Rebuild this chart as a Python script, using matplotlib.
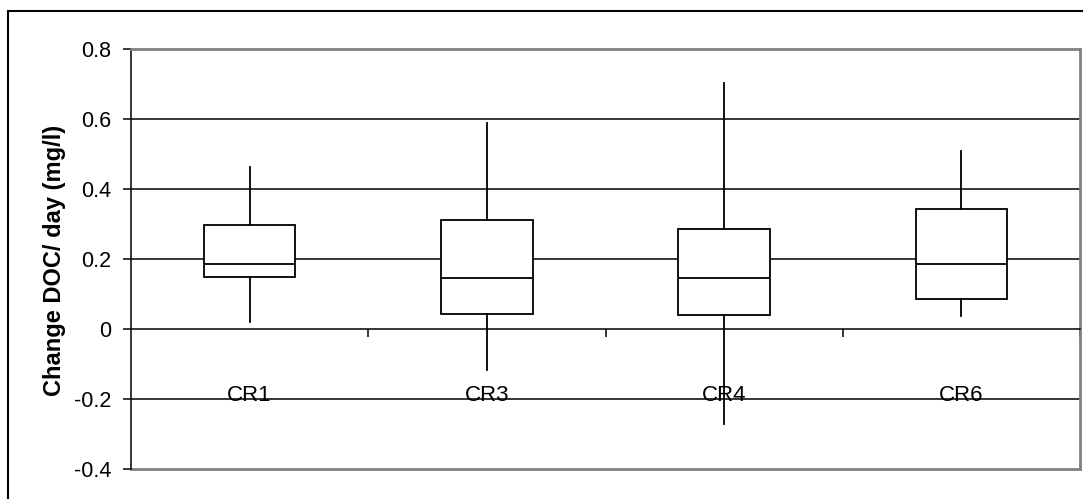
import matplotlib.pyplot as plt
from matplotlib.patches import Rectangle

plt.rcParams['font.family'] = ['Liberation Sans', 'DejaVu Sans']

# box plot values
sites = ['CR1', 'CR3', 'CR4', 'CR6']
whisker_low = [0.021, -0.117, -0.270, 0.036]
q1 = [0.149, 0.042, 0.040, 0.087]
median = [0.186, 0.147, 0.146, 0.187]
q3 = [0.296, 0.311, 0.286, 0.342]
whisker_high = [0.464, 0.590, 0.704, 0.510]

y_ticks = [-0.4, -0.2, 0, 0.2, 0.4, 0.6, 0.8]

fig = plt.figure(figsize=(10.83, 4.99), dpi=100)
ax = fig.add_axes([131 / 1083, 1 - 469 / 499, 949 / 1083, 420 / 499])

# outer chart frame (cut at the right and bottom in the original)
fig.patches.append(Rectangle((8 / 1083, -0.1), 1.2, 1 - 11 / 499 + 0.1,
                             transform=fig.transFigure, fill=False,
                             edgecolor='black', linewidth=1.5))

stats = []
for i in range(len(sites)):
    stats.append({'whislo': whisker_low[i], 'q1': q1[i], 'med': median[i],
                  'q3': q3[i], 'whishi': whisker_high[i], 'label': sites[i]})

pos = list(range(1, len(sites) + 1))
ax.bxp(stats, positions=pos, widths=0.385, showcaps=False, showfliers=False,
       patch_artist=True,
       boxprops=dict(facecolor='white', edgecolor='black', linewidth=1.3),
       medianprops=dict(color='black', linewidth=1.3),
       whiskerprops=dict(color='black', linewidth=1.3),
       zorder=3)

for y in [-0.2, 0.2, 0.4, 0.6]:
    ax.axhline(y, color='black', linewidth=1.1, zorder=1)
ax.axhline(-0.4, color='#808080', linewidth=2, zorder=1, clip_on=False)

ax.set_xlim(0.5, len(sites) + 0.5)
ax.set_ylim(-0.4, 0.8)
ax.set_yticks(y_ticks)
ax.set_yticklabels(['-0.4', '-0.2', '0', '0.2', '0.4', '0.6', '0.8'], fontsize=15.5)
ax.set_xticks([p + 0.5 for p in pos])
ax.set_xticklabels([])
ax.tick_params(axis='y', direction='out', length=6, width=1.1, pad=8)
ax.tick_params(axis='x', direction='out', length=6, width=1.1)

ax.spines['bottom'].set_position(('data', 0))
ax.spines['bottom'].set_linewidth(1.1)
ax.spines['left'].set_linewidth(1.1)
ax.spines['top'].set_color('#808080')
ax.spines['top'].set_linewidth(2)
ax.spines['right'].set_color('#808080')
ax.spines['right'].set_linewidth(2)
ax.spines['bottom'].set_zorder(4)

for p, s in zip(pos, sites):
    ax.text(p, -0.205, s, ha='center', va='baseline', fontsize=16, zorder=5)

fig.text(54 / 1083, 1 - 260 / 499, 'Change DOC/ day (mg/l)', rotation=90,
         ha='center', va='center', fontsize=17, fontweight='bold')

fig.savefig('out.png', dpi=100)
